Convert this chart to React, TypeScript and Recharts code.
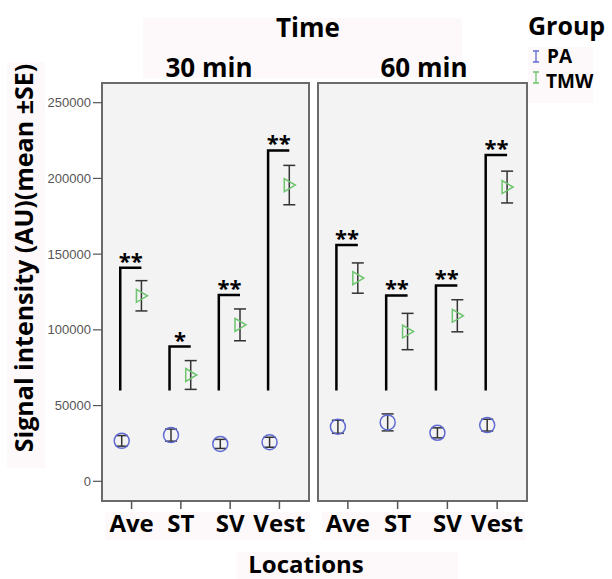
import {
  ScatterChart,
  Scatter,
  XAxis,
  YAxis,
  ErrorBar,
  ReferenceArea,
} from "recharts";

const categories = ["Ave", "ST", "SV", "Vest"];
const yTicks = [0, 50000, 100000, 150000, 200000, 250000];

const pa30 = [26700, 30500, 24700, 25800];
const pa30Err = [3500, 4000, 3000, 3300];
const tmw30 = [122500, 70200, 103300, 195600];
const tmw30Err = [10000, 9500, 10500, 13000];

const pa60 = [36000, 38900, 32000, 37100];
const pa60Err = [4300, 5600, 3300, 3900];
const tmw60 = [134200, 98900, 109300, 194300];
const tmw60Err = [10000, 12000, 10600, 10500];

const bracketBase = 60000;
const bracket30 = [141000, 89000, 123000, 218500];
const stars30 = ["**", "*", "**", "**"];
const bracket60 = [156000, 122700, 129300, 215400];
const stars60 = ["**", "**", "**", "**"];

const FONT = "'Open Sans', 'Noto Sans', sans-serif";
const BLUE = "#5f6bd3";
const GREEN = "#6cc46c";
const PINK = "#fdf8f9";

const toPoints = (vals: number[], errs: number[], shift: number) =>
  vals.map((v, i) => ({ x: i + shift, y: v, err: errs[i] }));

const Circle = (p: any) => (
  <circle cx={p.cx} cy={p.cy} r={7.5} fill="none" stroke={BLUE} strokeWidth={1.5} />
);

const Triangle = (p: any) => (
  <path
    d={`M${p.cx - 5},${p.cy - 6.5} L${p.cx + 6},${p.cy} L${p.cx - 5},${p.cy + 6.5} Z`}
    fill="none"
    stroke={GREEN}
    strokeWidth={1.5}
  />
);

// significance stars sit just above each bracket
const Stars = (p: any) => (
  <text
    x={p.cx}
    y={p.cy + 1}
    textAnchor="middle"
    fontFamily={FONT}
    fontWeight="bold"
    fontSize={22}
    fill="#000"
  >
    {p.payload.label}
  </text>
);

const Nothing = () => <g />;

const CatTick = (p: any) => (
  <text
    x={p.x}
    y={p.y + 21}
    textAnchor="middle"
    fontFamily={FONT}
    fontWeight="bold"
    fontSize={24}
    fill="#000"
  >
    {categories[p.payload.value]}
  </text>
);

type PanelProps = {
  pa: number[];
  paErr: number[];
  tmw: number[];
  tmwErr: number[];
  brackets: number[];
  stars: string[];
  showY: boolean;
  width: number;
  margin: { top: number; right: number; bottom: number; left: number };
};

const Panel = ({ pa, paErr, tmw, tmwErr, brackets, stars, showY, width, margin }: PanelProps) => {
  const starData = brackets.map((b, i) => ({ x: i - 0.015, y: b, label: stars[i] }));
  return (
    <ScatterChart width={width} height={579} margin={margin}>
      <XAxis
        type="number"
        dataKey="x"
        domain={[-0.6, 3.6]}
        ticks={[0, 1, 2, 3]}
        allowDataOverflow
        axisLine={false}
        tickLine={{ stroke: "#555", strokeWidth: 1.5 }}
        tickSize={8}
        height={40}
        tick={<CatTick />}
        interval={0}
      />
      <YAxis
        type="number"
        dataKey="y"
        domain={[-13000, 263000]}
        ticks={yTicks}
        allowDataOverflow
        hide={!showY}
        width={showY ? 60 : 0}
        axisLine={false}
        tickLine={{ stroke: "#555", strokeWidth: 1.2 }}
        tickSize={9}
        tickMargin={2}
        tick={{ fontSize: 13, fill: "#555", fontFamily: "'Liberation Sans', Arial, sans-serif" }}
      />
      <ReferenceArea
        x1={-0.6}
        x2={3.6}
        y1={-13000}
        y2={263000}
        fill="#f3f3f3"
        fillOpacity={1}
        stroke="#6a6a6a"
        strokeWidth={2}
      />
      {brackets.map((b, i) => (
        <Scatter
          key={`br${i}`}
          data={[
            { x: i - 0.23, y: bracketBase },
            { x: i - 0.23, y: b },
            { x: i + 0.2, y: b },
          ]}
          line={{ stroke: "#000", strokeWidth: 2.5 }}
          lineType="joint"
          shape={<Nothing />}
          isAnimationActive={false}
        />
      ))}
      <Scatter data={starData} shape={<Stars />} isAnimationActive={false} />
      <Scatter data={toPoints(pa, paErr, -0.2)} shape={<Circle />} isAnimationActive={false}>
        <ErrorBar dataKey="err" direction="y" width={6} stroke="#333" strokeWidth={1.5} />
      </Scatter>
      <Scatter data={toPoints(tmw, tmwErr, 0.2)} shape={<Triangle />} isAnimationActive={false}>
        <ErrorBar dataKey="err" direction="y" width={6} stroke="#333" strokeWidth={1.5} />
      </Scatter>
    </ScatterChart>
  );
};

const label = { fontFamily: FONT, fontWeight: "bold" as const, fill: "#000" };

export default function App() {
  return (
    <div style={{ position: "absolute", left: 0, top: 0, width: 612, height: 579, background: "#fff" }}>
      <svg width={612} height={579} style={{ position: "absolute", left: 0, top: 0 }}>
        <rect x={143} y={18} width={319} height={60} fill={PINK} />
        <rect x={528} y={47} width={65} height={56} fill={PINK} />
        <rect x={7} y={62} width={38} height={406} fill={PINK} />
        <rect x={105} y={512} width={205} height={28} fill={PINK} />
        <rect x={322} y={512} width={203} height={28} fill={PINK} />
        <rect x={237} y={552} width={221} height={27} fill={PINK} />
        <text x={308} y={37} textAnchor="middle" fontSize={26} {...label}>Time</text>
        <text x={209} y={77} textAnchor="middle" fontSize={26} {...label}>30 min</text>
        <text x={424} y={77} textAnchor="middle" fontSize={26} {...label}>60 min</text>
        <text x={528} y={35} fontSize={25} {...label}>Group</text>
        <path d="M533,51 h6 M536,51 v11 M533,62 h6" stroke={BLUE} strokeWidth={1.3} fill="none" />
        <text x={547} y={63} fontSize={19} {...label}>PA</text>
        <path d="M533,72 h6 M536,72 v11 M533,83 h6" stroke={GREEN} strokeWidth={1.3} fill="none" />
        <text x={546} y={88} fontSize={19} {...label}>TMW</text>
        <text
          x={33}
          y={258}
          transform="rotate(-90 33 258)"
          textAnchor="middle"
          fontSize={25}
          {...label}
        >
          Signal intensity (AU)(mean ±SE)
        </text>
        <text x={306} y={573} textAnchor="middle" fontSize={24} {...label}>Locations</text>
      </svg>
      <div style={{ position: "absolute", left: 0, top: 0 }}>
        <Panel
          pa={pa30}
          paErr={pa30Err}
          tmw={tmw30}
          tmwErr={tmw30Err}
          brackets={bracket30}
          stars={stars30}
          showY
          width={310}
          margin={{ top: 83, right: 1, bottom: 38, left: 42 }}
        />
      </div>
      <div style={{ position: "absolute", left: 310, top: 0 }}>
        <Panel
          pa={pa60}
          paErr={pa60Err}
          tmw={tmw60}
          tmwErr={tmw60Err}
          brackets={bracket60}
          stars={stars60}
          showY={false}
          width={302}
          margin={{ top: 83, right: 85, bottom: 38, left: 8 }}
        />
      </div>
    </div>
  );
}
